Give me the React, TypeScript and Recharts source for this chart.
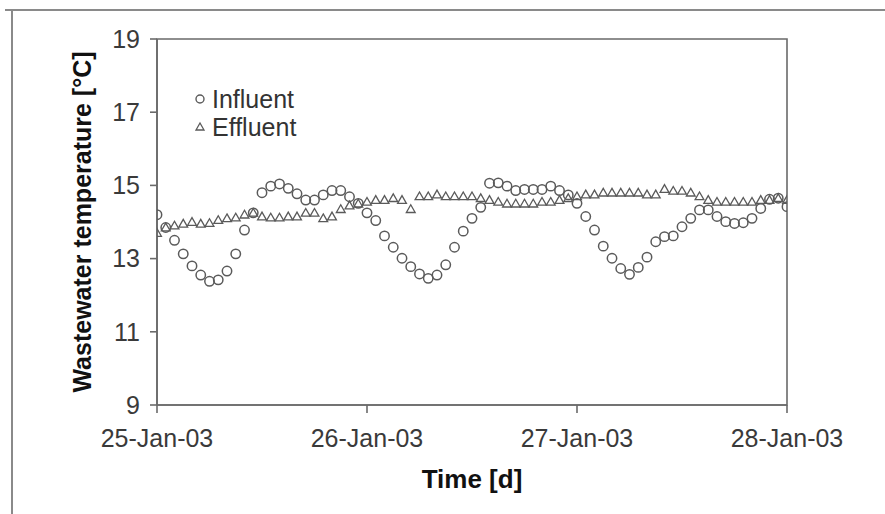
import React from 'react';
import {
  ScatterChart,
  Scatter,
  XAxis,
  YAxis,
  ReferenceArea,
  Legend,
  Label,
} from 'recharts';

// Hourly readings, 25-Jan-03 00:00 to 28-Jan-03 00:00 (73 points)
const influentTemp = [
  14.2, 13.85, 13.5, 13.13, 12.8, 12.55, 12.38, 12.42, 12.66, 13.13, 13.78, 14.25,
  14.8, 14.98, 15.04, 14.92, 14.77, 14.6, 14.6, 14.74, 14.86, 14.86, 14.69, 14.51,
  14.25, 14.04, 13.62, 13.31, 13.01, 12.78, 12.58, 12.46, 12.55, 12.83, 13.31, 13.75,
  14.1, 14.4, 15.06, 15.07, 14.98, 14.86, 14.89, 14.89, 14.89, 14.98, 14.86, 14.74,
  14.51, 14.15, 13.78, 13.34, 13.01, 12.73, 12.57, 12.76, 13.04, 13.46, 13.6, 13.62,
  13.87, 14.1, 14.33, 14.33, 14.15, 14.01, 13.96, 13.98, 14.1, 14.37, 14.62, 14.65,
  14.42,
];

const effluentTemp = [
  13.7, 13.85, 13.9, 13.95, 14.0, 13.95, 13.97, 14.05, 14.1, 14.12, 14.2, 14.25,
  14.15, 14.12, 14.12, 14.15, 14.15, 14.25, 14.25, 14.1, 14.15, 14.35, 14.45, 14.5,
  14.55, 14.6, 14.6, 14.65, 14.6, 14.35, 14.7, 14.7, 14.75, 14.7, 14.7, 14.7,
  14.7, 14.65, 14.6, 14.55, 14.5, 14.5, 14.5, 14.5, 14.55, 14.55, 14.6, 14.65,
  14.7, 14.75, 14.75, 14.8, 14.8, 14.8, 14.8, 14.8, 14.75, 14.75, 14.9, 14.85,
  14.85, 14.8, 14.7, 14.6, 14.55, 14.55, 14.55, 14.55, 14.55, 14.6, 14.6, 14.65,
  14.6,
];

const xTicks = [0, 24, 48, 72];
const xTickLabels = ['25-Jan-03', '26-Jan-03', '27-Jan-03', '28-Jan-03'];
const yTicks = [9, 11, 13, 15, 17, 19];
const seriesNames = ['Influent', 'Effluent'];

const influentData = influentTemp.map((t, i) => ({ h: i, t }));
const effluentData = effluentTemp.map((t, i) => ({ h: i, t }));

const MARK = '#5a5a5a';
const AXIS = '#6a6a6a';
const FONT = '"Liberation Sans", Arial, sans-serif';

const CircleShape = (props: any) => {
  const { cx, cy } = props;
  if (cx == null || cy == null) return null;
  return <circle cx={cx} cy={cy} r={4.7} fill="none" stroke={MARK} strokeWidth={1.5} />;
};

const TriangleShape = (props: any) => {
  const { cx, cy } = props;
  if (cx == null || cy == null) return null;
  const s = 4.4;
  const d = `M${cx},${cy - s} L${cx + s},${cy + s * 0.75} L${cx - s},${cy + s * 0.75} Z`;
  return <path d={d} fill="none" stroke={MARK} strokeWidth={1.3} />;
};

const LegendContent = () => (
  <div style={{ fontFamily: FONT, fontSize: 25, color: '#333', lineHeight: '28px' }}>
    <div style={{ display: 'flex', alignItems: 'center' }}>
      <svg width={16} height={16} style={{ marginRight: 4 }}>
        <circle cx={8} cy={8} r={4} fill="none" stroke={MARK} strokeWidth={1.4} />
      </svg>
      <span>{seriesNames[0]}</span>
    </div>
    <div style={{ display: 'flex', alignItems: 'center' }}>
      <svg width={16} height={16} style={{ marginRight: 4 }}>
        <path d="M8,4 L12,11 L4,11 Z" fill="none" stroke={MARK} strokeWidth={1.3} />
      </svg>
      <span>{seriesNames[1]}</span>
    </div>
  </div>
);

export default function App() {
  return (
    <div style={{ position: 'absolute', left: 0, top: 0, width: 885, height: 514, background: '#fff' }}>
      <div style={{ position: 'absolute', left: 5, top: 9, width: 880, height: 0, borderTop: '2px solid #8a8a8a' }} />
      <div style={{ position: 'absolute', left: 11, top: 9, width: 0, height: 505, borderLeft: '2px solid #8a8a8a' }} />
      <div style={{ position: 'absolute', left: 0, top: 0 }}>
        <ScatterChart
          width={885}
          height={514}
          margin={{ top: 39, right: 98, bottom: 0, left: 0 }}
        >
          <XAxis
            type="number"
            dataKey="h"
            domain={[0, 72]}
            ticks={xTicks}
            tickFormatter={(v: number) => xTickLabels[xTicks.indexOf(v)]}
            height={109}
            stroke={AXIS}
            strokeWidth={1.6}
            tickSize={8}
            tickMargin={16}
            tick={{ fill: '#3a3a3a', fontSize: 25, fontFamily: FONT }}
            allowDataOverflow
          >
            <Label
              content={(p: any) => {
                const vb = p.viewBox || {};
                return (
                  <text
                    x={vb.x + vb.width / 2}
                    y={vb.y + 83}
                    textAnchor="middle"
                    fontFamily={FONT}
                    fontWeight="bold"
                    fontSize={26}
                    fill="#111"
                  >
                    Time [d]
                  </text>
                );
              }}
            />
          </XAxis>
          <YAxis
            type="number"
            dataKey="t"
            domain={[9, 19]}
            ticks={yTicks}
            width={157}
            stroke={AXIS}
            strokeWidth={1.6}
            tickSize={7}
            tickMargin={10}
            tick={{ fill: '#3a3a3a', fontSize: 25, fontFamily: FONT }}
            allowDataOverflow
          >
            <Label
              content={(p: any) => {
                const vb = p.viewBox || {};
                const cx = vb.x + 82;
                const cy = vb.y + vb.height / 2;
                return (
                  <text
                    x={cx}
                    y={cy}
                    transform={`rotate(-90 ${cx} ${cy})`}
                    textAnchor="middle"
                    dominantBaseline="central"
                    fontFamily={FONT}
                    fontWeight="bold"
                    fontSize={25}
                    fill="#111"
                  >
                    Wastewater temperature [°C]
                  </text>
                );
              }}
            />
          </YAxis>
          <ReferenceArea x1={0} x2={72} y1={9} y2={19} fill="none" stroke={AXIS} strokeWidth={1.6} ifOverflow="visible" />
          <Scatter
            name={seriesNames[1]}
            data={effluentData}
            shape={TriangleShape}
            isAnimationActive={false}
          />
          <Scatter
            name={seriesNames[0]}
            data={influentData}
            shape={CircleShape}
            isAnimationActive={false}
          />
          <Legend
            layout="vertical"
            align="center"
            verticalAlign="middle"
            content={LegendContent}
            wrapperStyle={{ left: 192, top: 85, width: 'auto' }}
          />
        </ScatterChart>
      </div>
    </div>
  );
}
